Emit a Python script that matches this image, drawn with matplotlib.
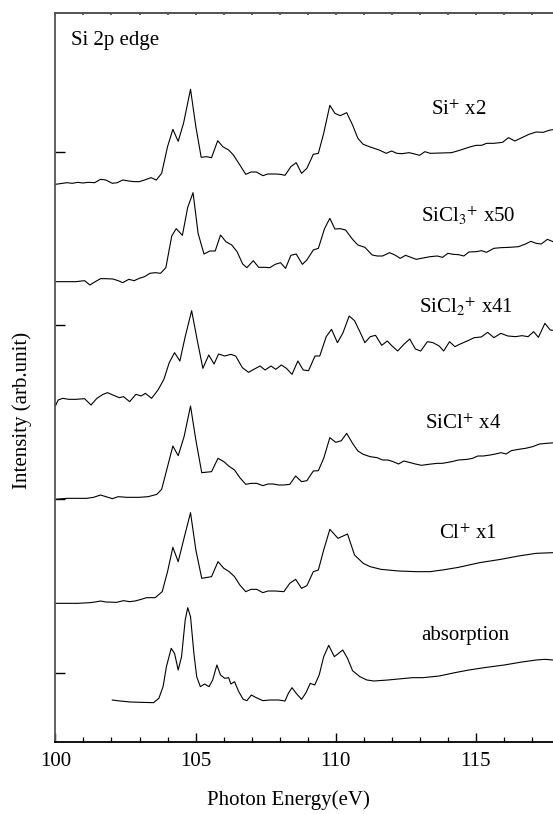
import numpy as np
import matplotlib
matplotlib.use('Agg')
import matplotlib.pyplot as plt
from matplotlib.ticker import MultipleLocator

plt.rcParams['font.family'] = 'Liberation Serif'
plt.rcParams['mathtext.fontset'] = 'stix'

# --- spectra (photon energy in eV, intensity in arb. units) ---
si_e = [100.00, 100.42, 100.60, 100.79, 100.98, 101.17, 101.40, 101.61, 101.80, 102.03,
        102.21, 102.40, 102.62, 102.81, 102.99, 103.18, 103.41, 103.60, 103.79, 104.00,
        104.19, 104.38, 104.57, 104.82, 105.01, 105.20, 105.38, 105.57, 105.79, 105.97,
        106.18, 106.35, 106.58, 106.79, 106.98, 107.17, 107.40, 107.58, 107.84, 108.03,
        108.19, 108.40, 108.59, 108.78, 108.97, 109.20, 109.38, 109.57, 109.79, 109.97,
        110.16, 110.39, 110.60, 110.79, 110.98, 111.23, 111.55, 111.80, 111.99, 112.18,
        112.37, 112.62, 112.81, 112.99, 113.18, 113.37, 113.75, 114.13, 114.38, 114.63,
        114.82, 115.01, 115.20, 115.38, 115.64, 115.95, 116.16, 116.39, 116.64, 116.89,
        117.15, 117.40, 117.65, 117.84]
si_i = [0, 5, 3, 6, 4, 6, 5, 15, 13, 3,
        5, 13, 10, 8, 8, 13, 20, 13, 33, 113,
        165, 129, 183, 285, 173, 81, 83, 80, 131, 113,
        103, 88, 58, 30, 37, 37, 26, 31, 31, 30,
        27, 53, 65, 33, 48, 90, 93, 153, 237, 213,
        206, 215, 178, 138, 120, 112, 103, 93, 100, 93,
        92, 95, 91, 87, 98, 93, 94, 95, 101, 108,
        113, 117, 117, 123, 123, 126, 140, 130, 140, 150,
        157, 156, 163, 165]

sicl3_e = [100.00, 100.42, 100.73, 101.04, 101.23, 101.42, 101.61, 101.80, 102.05, 102.24,
           102.40, 102.62, 102.81, 102.99, 103.18, 103.37, 103.56, 103.75, 103.94, 104.15,
           104.31, 104.53, 104.72, 104.91, 105.09, 105.30, 105.51, 105.70, 105.89, 106.08,
           106.29, 106.48, 106.68, 106.83, 107.06, 107.25, 107.46, 107.65, 107.84, 108.03,
           108.21, 108.40, 108.59, 108.81, 108.97, 109.20, 109.38, 109.60, 109.79, 109.97,
           110.16, 110.35, 110.60, 110.79, 111.04, 111.30, 111.48, 111.67, 111.92, 112.11,
           112.30, 112.49, 112.68, 112.87, 113.12, 113.37, 113.62, 113.81, 114.00, 114.19,
           114.38, 114.57, 114.75, 115.01, 115.20, 115.38, 115.64, 115.89, 116.20, 116.52,
           116.77, 116.96, 117.15, 117.33, 117.55, 117.75]
sicl3_i = [0, 0, 0, 3, -10, 0, 9, 9, 8, 3,
           -3, 7, 3, 10, 15, 25, 27, 25, 42, 137,
           159, 139, 223, 267, 145, 83, 92, 92, 140, 120,
           110, 90, 53, 42, 63, 43, 43, 42, 52, 57,
           40, 79, 83, 52, 65, 95, 100, 159, 190, 158,
           159, 155, 127, 110, 103, 80, 77, 77, 87, 80,
           70, 79, 73, 67, 71, 75, 77, 73, 85, 82,
           81, 77, 89, 90, 93, 88, 100, 102, 103, 105,
           113, 121, 115, 113, 127, 120]

sicl2_e = [100.00, 100.10, 100.26, 100.48, 100.73, 101.04, 101.27, 101.48, 101.70, 101.86,
           102.05, 102.28, 102.43, 102.65, 102.87, 103.06, 103.21, 103.43, 103.66, 103.87,
           104.06, 104.25, 104.44, 104.63, 104.86, 105.07, 105.26, 105.47, 105.66, 105.82,
           106.04, 106.26, 106.43, 106.67, 106.89, 107.08, 107.30, 107.48, 107.69, 107.86,
           108.06, 108.24, 108.44, 108.65, 108.84, 109.03, 109.26, 109.43, 109.66, 109.85,
           110.06, 110.25, 110.48, 110.67, 110.86, 111.04, 111.23, 111.42, 111.64, 111.84,
           112.01, 112.21, 112.43, 112.64, 112.84, 113.03, 113.27, 113.47, 113.69, 113.85,
           114.06, 114.25, 114.44, 114.69, 114.94, 115.19, 115.42, 115.64, 115.89, 116.14,
           116.42, 116.64, 116.86, 117.06, 117.23, 117.46, 117.65, 117.84]
sicl2_i = [0, 18, 23, 20, 20, 22, 3, 23, 35, 40,
           33, 25, 28, 13, 35, 30, 38, 23, 48, 80,
           130, 160, 135, 208, 286, 193, 113, 153, 126, 156,
           150, 155, 150, 115, 101, 110, 120, 108, 120, 110,
           123, 113, 95, 135, 108, 106, 150, 150, 208, 230,
           190, 218, 270, 256, 223, 190, 208, 212, 182, 195,
           180, 165, 185, 201, 171, 165, 193, 190, 180, 165,
           193, 178, 186, 195, 205, 207, 221, 205, 218, 210,
           208, 211, 208, 223, 206, 248, 228, 226]

sicl_e = [100.00, 100.42, 100.79, 101.11, 101.36, 101.61, 101.80, 102.03, 102.24, 102.55,
          102.99, 103.31, 103.62, 103.79, 104.00, 104.19, 104.38, 104.59, 104.82, 105.01,
          105.22, 105.57, 105.80, 106.01, 106.18, 106.39, 106.58, 106.79, 106.98, 107.18,
          107.40, 107.58, 107.77, 107.96, 108.15, 108.36, 108.57, 108.78, 108.97, 109.20,
          109.38, 109.57, 109.79, 110.00, 110.20, 110.39, 110.60, 110.79, 110.98, 111.23,
          111.48, 111.67, 111.86, 112.05, 112.24, 112.43, 112.62, 112.84, 113.06, 113.31,
          113.62, 113.81, 114.13, 114.38, 114.69, 114.88, 115.07, 115.26, 115.51, 115.70,
          115.89, 116.08, 116.26, 116.52, 116.77, 117.02, 117.27, 117.52, 117.84]
sicl_i = [0, 3, 3, 3, 6, 13, 8, 2, 8, 6,
          6, 8, 15, 30, 98, 160, 131, 188, 280, 178,
          80, 83, 123, 113, 100, 88, 65, 45, 48, 48,
          41, 46, 46, 43, 43, 45, 70, 53, 56, 85,
          86, 123, 185, 171, 176, 198, 168, 145, 135, 128,
          125, 118, 118, 113, 106, 115, 111, 106, 102, 105,
          108, 108, 113, 118, 120, 123, 130, 130, 133, 136,
          140, 136, 146, 150, 153, 158, 166, 168, 170]

cl_e = [100.00, 100.42, 100.79, 101.23, 101.42, 101.61, 101.80, 102.18, 102.43, 102.65,
        102.84, 103.06, 103.25, 103.56, 103.81, 104.00, 104.19, 104.38, 104.59, 104.82,
        105.01, 105.22, 105.57, 105.80, 106.01, 106.20, 106.39, 106.58, 106.79, 106.98,
        107.18, 107.40, 107.58, 107.84, 108.15, 108.36, 108.57, 108.78, 108.97, 109.20,
        109.38, 109.57, 109.79, 110.08, 110.42, 110.67, 110.98, 111.23, 111.61, 112.24,
        112.87, 113.37, 113.62, 113.81, 114.38, 115.13, 115.89, 116.52, 117.15, 117.75]
cl_i = [0, 0, 0, 2, 4, 7, 4, 3, 8, 5,
        7, 12, 17, 17, 35, 95, 168, 125, 196, 272,
        160, 75, 80, 125, 105, 95, 80, 55, 35, 42,
        42, 32, 37, 37, 35, 60, 72, 45, 53, 95,
        100, 160, 222, 195, 208, 145, 120, 110, 102, 97,
        95, 95, 98, 100, 108, 122, 132, 142, 150, 152]

abs_e = [102.03, 102.30, 102.68, 103.06, 103.50, 103.69, 103.84, 103.96, 104.13, 104.25,
         104.38, 104.50, 104.63, 104.72, 104.82, 104.94, 105.04, 105.17, 105.32, 105.48,
         105.61, 105.76, 105.89, 106.04, 106.18, 106.26, 106.39, 106.54, 106.70, 106.83,
         106.99, 107.14, 107.40, 107.65, 107.96, 108.19, 108.31, 108.44, 108.59, 108.78,
         108.94, 109.09, 109.25, 109.41, 109.57, 109.75, 109.95, 110.10, 110.25, 110.42,
         110.60, 110.86, 111.11, 111.36, 111.86, 112.36, 112.74, 113.12, 113.69, 114.25,
         114.75, 115.38, 116.01, 116.64, 117.15, 117.46, 117.75]
abs_i = [8, 5, 2, 1, 0, 13, 48, 108, 163, 148,
         98, 138, 248, 285, 258, 148, 78, 48, 56, 48,
         68, 113, 83, 73, 75, 56, 63, 33, 10, 6,
         23, 16, 6, 8, 8, 5, 28, 45, 28, 10,
         30, 58, 53, 83, 138, 172, 138, 148, 158, 133,
         96, 78, 68, 65, 68, 72, 75, 75, 80, 90,
         98, 106, 113, 122, 128, 130, 128]

labels = ['Si$^{+}$ x2', 'SiCl$_{3}{}^{+}$ x50', 'SiCl$_{2}{}^{+}$ x41',
          'SiCl$^{+}$ x4', 'Cl$^{+}$ x1', 'absorption']
offsets = [1673, 1381, 1008, 728, 416, 118]

series = [(si_e, si_i), (sicl3_e, sicl3_i), (sicl2_e, sicl2_i),
          (sicl_e, sicl_i), (cl_e, cl_i), (abs_e, abs_i)]

# label anchor points (energy, height) for each curve
label_x = [114.38, 114.74, 114.64, 114.55, 114.72, 114.62]
label_y = [1881, 1558, 1286, 939, 609, 306]

# --- plotting ---
fig = plt.figure(figsize=(5.53, 8.14), dpi=100)
ax = fig.add_axes([55.4 / 553, 72 / 814, 1 - 55.4 / 553, 729 / 814])

for (e, inten), off in zip(series, offsets):
    ax.plot(e, np.array(inten) + off, color='black', lw=0.8)

for txt, lx, ly in zip(labels, label_x, label_y):
    ax.text(lx, ly, txt, fontsize=15, ha='center', va='baseline')

ax.text(100.54, 2091, 'Si 2p edge', fontsize=15, ha='left', va='baseline')

ax.set_xlim(100, 117.75)
ax.set_ylim(0, 2187)
ax.xaxis.set_major_locator(MultipleLocator(5))
ax.xaxis.set_minor_locator(MultipleLocator(1))
ax.set_yticks([208, 729, 1250, 1771])
ax.set_yticklabels([])

ax.tick_params(axis='x', which='major', direction='in', length=6.5, width=1.0,
               labelsize=15, pad=7)
ax.tick_params(axis='x', which='minor', direction='in', length=3.6, width=0.9)
ax.tick_params(axis='y', which='major', direction='in', length=7, width=1.0)

# tiny tick dots along the top frame
top = ax.secondary_xaxis('top')
top.xaxis.set_major_locator(MultipleLocator(1))
top.tick_params(direction='in', length=1.5, width=1.2, labeltop=False, color='#444444')
top.spines['top'].set_color('#555555')
top.spines['top'].set_linewidth(1.3)

ax.spines['right'].set_visible(False)
ax.spines['left'].set_color('#555555')
ax.spines['top'].set_color('#555555')
for s in ['left', 'top', 'bottom']:
    ax.spines[s].set_linewidth(1.3)

fig.text(22 / 553, (814 - 410) / 814, 'Intensity (arb.unit)', fontsize=15,
         rotation=90, ha='center', va='center')
fig.text(288 / 553, (814 - 800) / 814, 'Photon Energy(eV)', fontsize=15,
         ha='center', va='center')

fig.savefig('out.png', dpi=100)
